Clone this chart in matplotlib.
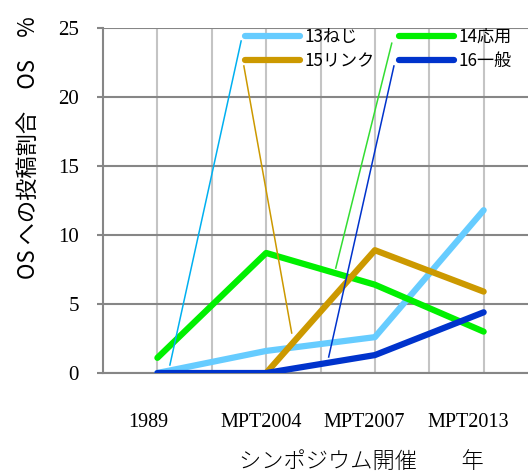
import matplotlib.pyplot as plt
import numpy as np

# values
categories = ['1989', 'MPT2004', 'MPT2007', 'MPT2013']
series_names = ['13ねじ', '14応用', '15リンク', '16一般']
neji = [0.0, 1.6, 2.6, 11.8]
ouyou = [1.1, 8.7, 6.4, 3.0]
link = [np.nan, 0.0, 8.9, 5.9]
ippan = [0.0, 0.0, 1.3, 4.4]
colors = ['#66CCFF', '#00F000', '#CC9900', '#0033CC']
leader_colors = ['#00B0F0', '#33DD33', '#CC9900', '#0033CC']

# leader lines (data label callouts), from legend to the line
leaders = {
    '13ねじ': ([2.54, 1.23], [24.06, 0.58]),
    '14応用': ([5.31, 4.28], [23.9, 7.6]),
    '15リンク': ([2.59, 3.47], [22.25, 2.9]),
    '16一般': ([5.35, 4.15], [22.25, 1.16]),
}

xpos = [1, 3, 5, 7]
label_pos = [0.84, 2.91, 4.80, 6.71]

fig = plt.figure(figsize=(5.28, 4.75), dpi=100)
ax = fig.add_axes([0.1951, 0.2147, 0.8239, 0.7263])

vals = [neji, ouyou, link, ippan]
lines = []
for name, v, c in zip(series_names, vals, colors):
    l, = ax.plot(xpos, v, color=c, lw=4.5, solid_capstyle='round',
                 solid_joinstyle='round', label=name, zorder=3)
    lines.append(l)

for name, lc in zip(series_names, leader_colors):
    lx, ly = leaders[name]
    ax.plot(lx, ly, color=lc, lw=1.1, zorder=4)

ax.set_xlim(0, 8)
ax.set_ylim(0, 25)
ax.set_yticks([0, 5, 10, 15, 20, 25])
ax.set_xticks(range(1, 9))
ax.set_xticklabels([])
ax.tick_params(axis='x', which='major', length=0)
ax.set_xticks(label_pos, minor=True)
ax.set_xticklabels(categories, minor=True, fontfamily='Liberation Serif', fontsize=14.5)
ax.tick_params(axis='x', which='minor', length=0, pad=29)
ax.tick_params(axis='y', length=4.5, width=1.5, color='#868686', pad=13)
for t in ax.get_yticklabels():
    t.set_fontfamily('Liberation Serif')
    t.set_fontsize(15)

ax.grid(axis='x', which='major', color='#C4C4C4', lw=1.5, zorder=0)
ax.grid(axis='y', color='#868686', lw=1.5, zorder=0)
ax.set_axisbelow(True)
for s in ['top', 'right']:
    ax.spines[s].set_visible(False)
ax.spines['left'].set_color('#868686')
ax.spines['left'].set_linewidth(1.5)
ax.spines['bottom'].set_color('#868686')
ax.spines['bottom'].set_linewidth(1.5)

leg = ax.legend([lines[0], lines[2], lines[1], lines[3]],
                [series_names[0], series_names[2], series_names[1], series_names[3]],
                ncol=2, frameon=False, loc='upper left',
                bbox_to_anchor=(245 / 528, 1 - 28 / 475), bbox_transform=fig.transFigure,
                prop={'family': 'Noto Sans CJK JP', 'size': 12.3},
                handlelength=3.2, handletextpad=0.3, columnspacing=1.4,
                labelspacing=0.35, borderaxespad=0, borderpad=0)

fig.text(361 / 528, 1 - 462 / 475, 'シンポジウム開催　　年', ha='center', va='center',
         fontfamily='Noto Sans CJK JP', fontsize=16, fontweight='light')
fig.text(28 / 528, 1 - 148 / 475, 'OS への投稿割合　OS　%', ha='center', va='center',
         rotation=90, fontfamily=['Noto Sans CJK JP', 'DejaVu Sans'], fontsize=16)

fig.savefig('out.png', dpi=100)
